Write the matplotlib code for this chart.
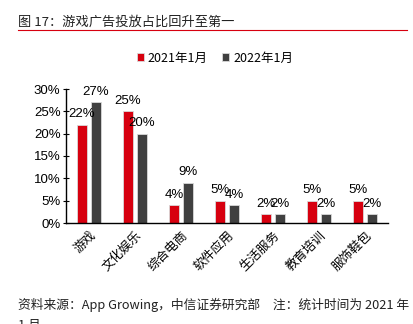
import matplotlib
matplotlib.use("Agg")
import matplotlib.pyplot as plt
import numpy as np
from matplotlib.ticker import PercentFormatter

plt.rcParams['font.family'] = ['Noto Sans CJK SC', 'DejaVu Sans']

categories = ["游戏", "文化娱乐", "综合电商", "软件应用", "生活服务", "教育培训", "服饰鞋包"]
series_names = ["2021年1月", "2022年1月"]
values_2021 = [22, 25, 4, 5, 2, 5, 5]
values_2022 = [27, 20, 9, 4, 2, 2, 2]
colors = ["#d7000f", "#404040"]

fig = plt.figure(figsize=(4.14, 3.24), dpi=100)
ax = fig.add_axes([66/414, 1-223/324, (388-66)/414, (223-89)/324])

x = np.arange(len(categories))
w = 0.21
offs = [-0.15, 0.15]
for vals, off, c, name in zip([values_2021, values_2022], offs, colors, series_names):
    ax.bar(x + off, vals, w, color=c, label=name, edgecolor="#d9d9d9", linewidth=0.6)
    for xi, v in zip(x + off, vals):
        ax.text(xi, v + 1.0, f"{v}%", ha="center", va="bottom", fontsize=9.5,
                family=['Liberation Sans', 'DejaVu Sans'])

ax.set_xlim(-0.5, len(categories) - 0.5)
ax.set_ylim(0, 30)
ax.set_yticks(np.arange(0, 31, 5))
ax.yaxis.set_major_formatter(PercentFormatter(decimals=0))
ax.set_xticks(x)
ax.set_xticklabels(categories, rotation=45, ha="right", rotation_mode="anchor", fontsize=9)
ax.tick_params(axis="x", length=0, pad=4)
ax.tick_params(axis="y", direction="inout", length=4, width=0.8, labelsize=9.5, pad=2)
for lab in ax.get_yticklabels():
    lab.set_family(['Liberation Sans', 'DejaVu Sans'])
for s in ["top", "right"]:
    ax.spines[s].set_visible(False)
ax.spines["left"].set_linewidth(1.0)
ax.spines["bottom"].set_linewidth(1.0)

fig.legend(loc="center", bbox_to_anchor=(215/414, 1-58/324), ncol=2, frameon=False,
           fontsize=9, handlelength=0.55, handleheight=0.55, handletextpad=0.3,
           columnspacing=1.2)

fig.text(18/414, 1-22/324, "图 17：游戏广告投放占比回升至第一", fontsize=9.5, va="center", ha="left", color="#222222")
fig.add_artist(plt.Line2D([18/414, 407/414], [1-30/324, 1-30/324], color="#d7000f", linewidth=0.8))
fig.text(18/414, 1-305/324, "资料来源：App Growing，中信证券研究部　注：统计时间为 2021 年", fontsize=9.2,
         va="center", ha="left", color="#222222")
fig.text(18/414, 1-324/324 - 0.005, "1 月", fontsize=9.2, va="center", ha="left", color="#222222")

fig.savefig("out.png", dpi=100)
